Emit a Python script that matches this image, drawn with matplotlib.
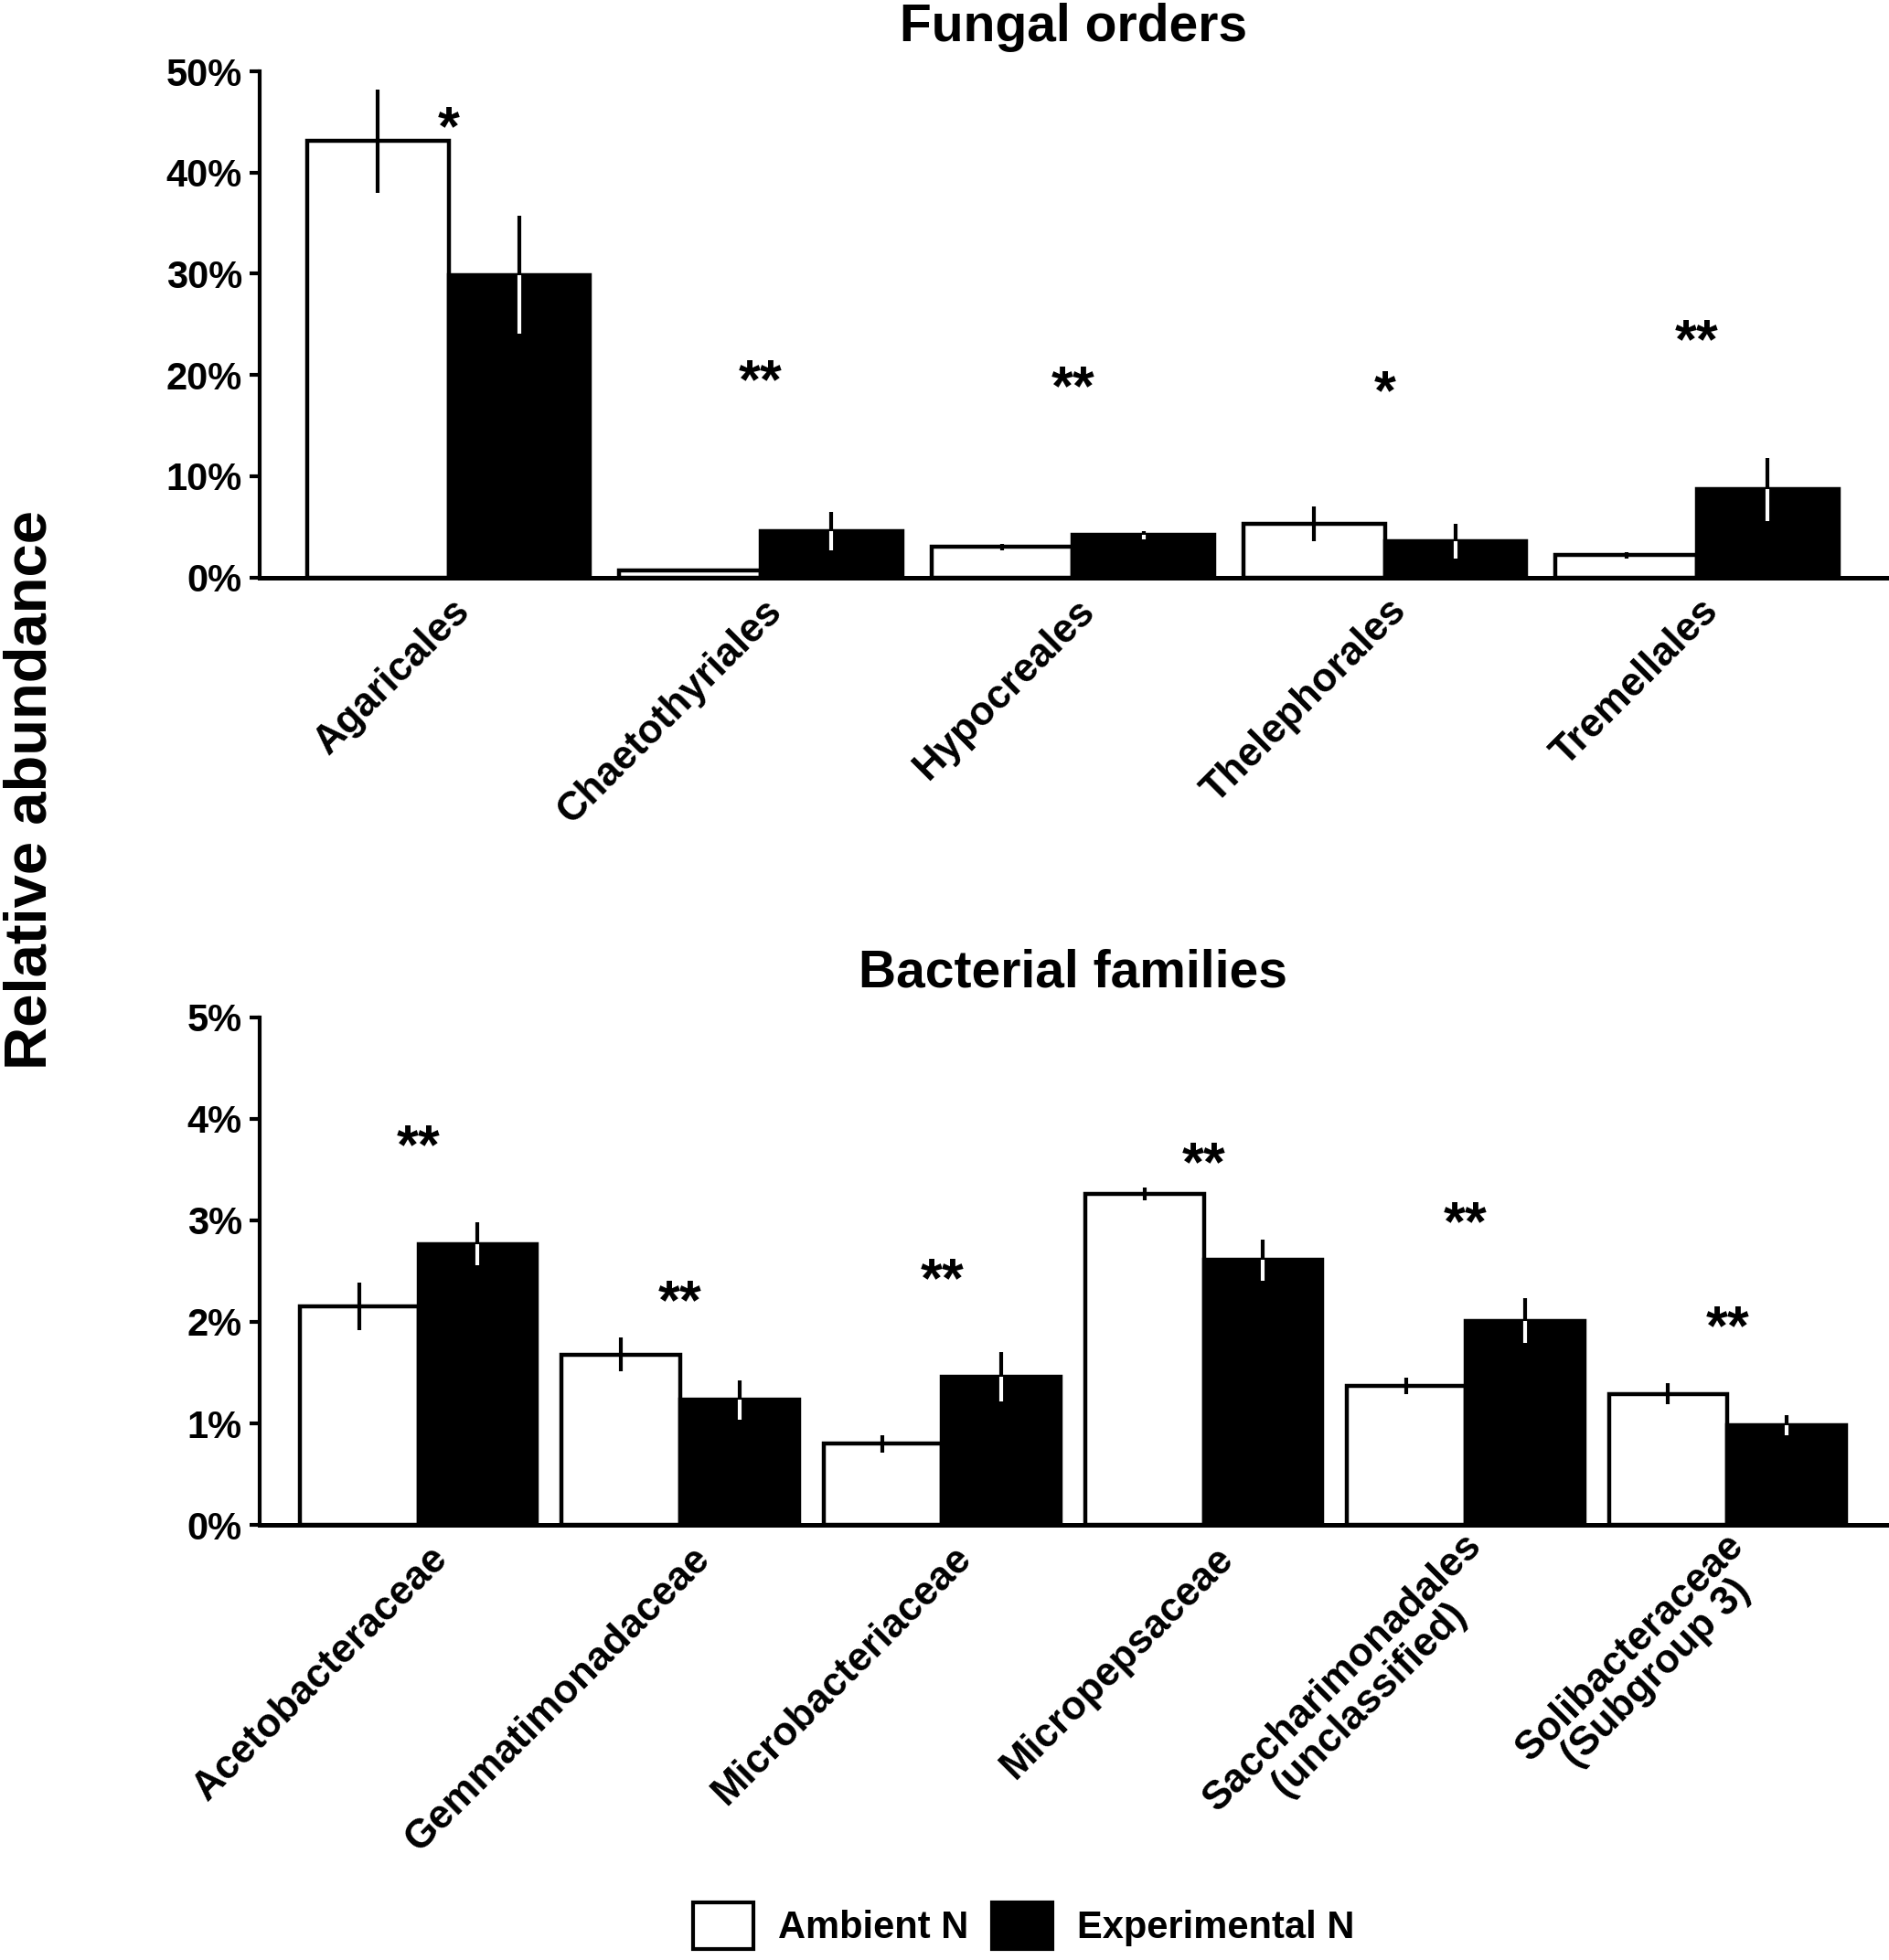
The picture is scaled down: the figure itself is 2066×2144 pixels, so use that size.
import numpy as np
import matplotlib
matplotlib.use("Agg")
import matplotlib.pyplot as plt
from matplotlib.patches import Patch
from matplotlib.ticker import PercentFormatter, MultipleLocator

# -------------------- Data --------------------
fungal_orders = ["Agaricales", "Chaetothyriales", "Hypocreales", "Thelephorales", "Tremellales"]
fungal_ambient = [43.1, 0.7, 3.0, 5.3, 2.2]
fungal_ambient_se = [5.1, 0.1, 0.35, 1.7, 0.3]
fungal_experimental = [29.9, 4.6, 4.2, 3.6, 8.7]
fungal_experimental_se = [5.8, 1.9, 0.4, 1.7, 3.1]
fungal_sig = ["*", "**", "**", "*", "**"]
fungal_sig_y = [45.9, 20.9, 20.3, 19.8, 24.9]

bacterial_families = ["Acetobacteraceae", "Gemmatimonadaceae", "Microbacteriaceae", "Micropepsaceae",
                      "Saccharimonadales\n(unclassified)", "Solibacteraceae\n(Subgroup 3)"]
bacterial_ambient = [2.15, 1.68, 0.80, 3.26, 1.37, 1.29]
bacterial_ambient_se = [0.235, 0.17, 0.085, 0.065, 0.085, 0.105]
bacterial_experimental = [2.77, 1.23, 1.46, 2.61, 2.01, 0.98]
bacterial_experimental_se = [0.21, 0.19, 0.24, 0.205, 0.22, 0.10]
bacterial_sig = ["**", "**", "**", "**", "**", "**"]
bacterial_sig_y = [3.88, 2.35, 2.56, 3.71, 3.12, 2.10]

legend_labels = ["Ambient N", "Experimental N"]

# -------------------- Style --------------------
plt.rcParams["font.family"] = ["Liberation Sans", "DejaVu Sans"]
plt.rcParams["font.weight"] = "bold"

bar_w = 0.453
edge_lw = 3.2
err_lw = 3.0
star_fs = 44


def draw_panel(ax, cats, amb, amb_se, exp, exp_se, sig, sig_y, ymax, title, label_shift):
    x = np.arange(len(cats))
    amb = np.array(amb); exp = np.array(exp)
    amb_se = np.array(amb_se); exp_se = np.array(exp_se)

    ax.bar(x - bar_w / 2, amb, bar_w, color="white", edgecolor="black", linewidth=edge_lw, zorder=2)
    ax.bar(x + bar_w / 2, exp, bar_w, color="black", edgecolor="black", linewidth=edge_lw, zorder=2)

    # error bars: black on white bars, white inside black bars
    ax.vlines(x - bar_w / 2, amb - amb_se, amb + amb_se, color="black", lw=err_lw, zorder=3)
    ax.vlines(x + bar_w / 2, exp, exp + exp_se, color="black", lw=err_lw, zorder=3)
    ax.vlines(x + bar_w / 2, exp - exp_se, exp, color="white", lw=err_lw, zorder=3)

    for xi, s, ys in zip(x, sig, sig_y):
        ax.annotate(s, xy=(xi, ys), xytext=(0, -0.57 * star_fs), textcoords="offset points",
                    ha="center", va="baseline", fontsize=star_fs, fontweight="bold")

    ax.set_xlim(-0.605, len(cats) - 1 + 0.607)
    ax.set_ylim(0, ymax)
    ax.yaxis.set_major_locator(MultipleLocator(ymax / 5))
    ax.yaxis.set_major_formatter(PercentFormatter(decimals=0))

    ax.set_xticks(x + label_shift)
    ax.set_xticklabels(cats, rotation=45, ha="right", va="center", rotation_mode="anchor",
                       fontsize=31.5, fontweight="bold", multialignment="center", linespacing=1.0)
    ax.tick_params(axis="x", length=0, pad=22)
    ax.tick_params(axis="y", direction="out", length=8, width=3, pad=6, labelsize=30)
    for lab in ax.get_yticklabels():
        lab.set_fontweight("bold")

    for side in ["top", "right"]:
        ax.spines[side].set_visible(False)
    ax.spines["left"].set_linewidth(3)
    ax.spines["bottom"].set_linewidth(3.6)
    ax.spines["bottom"].set_zorder(4)

    ax.set_title(title, fontsize=41, fontweight="bold", pad=24)


fig = plt.figure(figsize=(20.66, 21.44), dpi=100)
ax1 = fig.add_axes([0.1376, 0.7054, 0.861, 0.2582])
ax2 = fig.add_axes([0.1376, 0.2220, 0.861, 0.2589])

draw_panel(ax1, fungal_orders, fungal_ambient, fungal_ambient_se, fungal_experimental,
           fungal_experimental_se, fungal_sig, fungal_sig_y, 50, "Fungal orders", 0.05)
draw_panel(ax2, bacterial_families, bacterial_ambient, bacterial_ambient_se, bacterial_experimental,
           bacterial_experimental_se, bacterial_sig, bacterial_sig_y, 5, "Bacterial families", 0.09)

fig.text(0.016, 0.597, "Relative abundance", rotation=90, ha="center", va="center",
         fontsize=47, fontweight="bold")

handles = [Patch(facecolor="white", edgecolor="black", linewidth=3),
           Patch(facecolor="black", edgecolor="black", linewidth=3)]
fig.legend(handles, legend_labels, loc="center", bbox_to_anchor=(0.542, 0.0175), ncol=2,
           frameon=False, prop={"family": "Liberation Sans", "weight": "bold", "size": 30},
           handlelength=1.6, handleheight=1.5, handletextpad=0.65, columnspacing=0.6)

fig.savefig("out.png", dpi=100, facecolor="white")
